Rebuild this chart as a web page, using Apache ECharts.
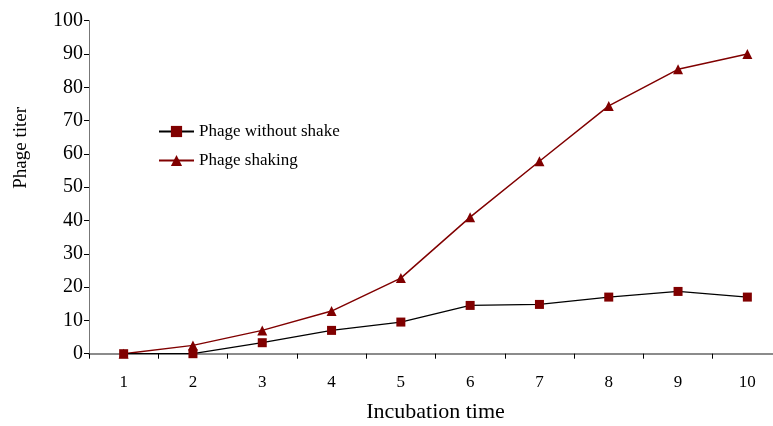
<!DOCTYPE html>
<html><head><meta charset="utf-8">
<script src="https://cdn.jsdelivr.net/npm/echarts@6/dist/echarts.min.js"></script>
<style>html,body{margin:0;padding:0;background:#fff}#c{width:773px;height:426px}</style>
</head><body><div id="c"></div>
<script>
var categories = ['1','2','3','4','5','6','7','8','9','10'];
var withoutShake = [0, 0, 3.3, 7, 9.5, 14.5, 14.8, 17, 18.7, 17];
var shaking = [0, 2.5, 7, 12.8, 22.7, 41, 57.8, 74.4, 85.4, 90];
var yTicks = [0,10,20,30,40,50,60,70,80,90,100];

var font = 'Liberation Serif';
var chart = echarts.init(document.getElementById('c'));
chart.setOption({
  animation: false,
  grid: {left: 89, right: -9, top: 20.7, bottom: 72.3, containLabel: false, outerBoundsMode: 'none'},
  legend: {
    orient: 'vertical', left: 158, top: 123, padding: 0, itemGap: 12, itemWidth: 35, itemHeight: 14,
    textStyle: {fontFamily: font, fontSize: 17, color: '#000'},
    data: ['Phage without shake', 'Phage shaking']
  },
  xAxis: {
    type: 'category', data: categories, boundaryGap: true,
    name: 'Incubation time', nameLocation: 'middle', nameGap: 48,
    nameTextStyle: {fontFamily: font, fontSize: 22, color: '#000'},
    axisLine: {lineStyle: {color: '#666', width: 1.5}},
    axisTick: {show: true, length: 5, lineStyle: {color: '#000'}, alignWithLabel: false},
    axisLabel: {fontFamily: font, fontSize: 17, color: '#000', margin: 20}
  },
  yAxis: {
    type: 'value', min: 0, max: 100, interval: 10,
    axisLine: {show: true, lineStyle: {color: '#777', width: 1}},
    axisTick: {show: true, length: 5, lineStyle: {color: '#000'}},
    axisLabel: {fontFamily: font, fontSize: 20, color: '#000', margin: 6,
      formatter: function(v){ return yTicks.indexOf(v) >= 0 ? String(v) : ''; }},
    splitLine: {show: false}
  },
  graphic: [{
    type: 'text', left: 12, top: 107, rotation: Math.PI/2,
    style: {text: 'Phage titer', font: '19px "Liberation Serif"', fill: '#000'}
  }],
  series: [{
    name: 'Phage without shake', type: 'line', data: withoutShake,
    symbol: 'rect', symbolSize: 9,
    lineStyle: {color: '#000', width: 1.3},
    itemStyle: {color: '#800000'}, z: 3
  }, {
    name: 'Phage shaking', type: 'line', data: shaking,
    symbol: 'triangle', symbolSize: 10,
    lineStyle: {color: '#800000', width: 1.5},
    itemStyle: {color: '#800000'}, z: 2
  }]
});
</script></body></html>
